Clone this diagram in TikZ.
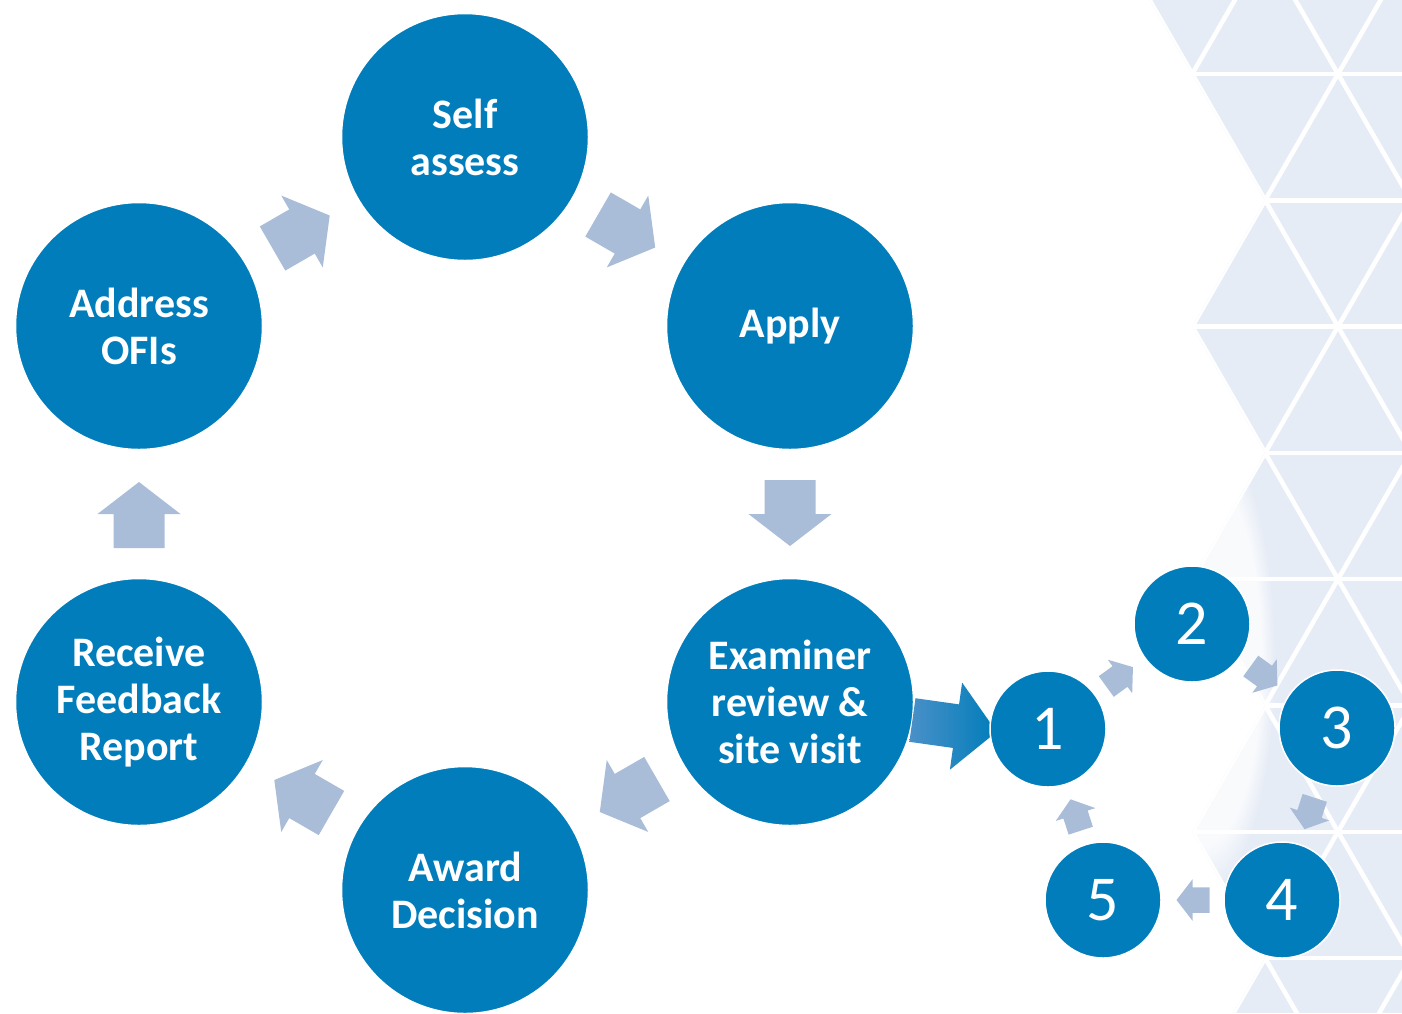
\documentclass[tikz,border=0pt]{standalone}
\usepackage{fontspec}
\setmainfont{Carlito}
\usetikzlibrary{calc, fadings}
\definecolor{stepblue}{RGB}{0,125,186}
\definecolor{arrowgray}{RGB}{170,189,216}
\definecolor{arrowlight}{RGB}{74,144,200}
\definecolor{tilefill}{RGB}{230,236,246}
\tikzstyle{step_circle} = [circle, fill=stepblue, draw=white, line width=1.5pt, minimum size=247pt, inner sep=0pt, text=white, align=center, font=\bfseries\fontsize{42}{47}\selectfont]
\tikzstyle{num_circle} = [circle, fill=stepblue, draw=white, line width=1.5pt, minimum size=116pt, inner sep=0pt, text=white, font=\fontsize{64}{64}\selectfont]
\tikzstyle{cycle_arrow} = [fill=arrowgray]
\tikzstyle{tile_line} = [white, line width=4.5pt]

\begin{document}
\begin{tikzpicture}[x=1pt, y=1pt]

    \useasboundingbox (0,0) rectangle (1402,-1013);
    \fill [white] (0,0) rectangle (1402,-1013);

    % triangle pattern on the right
    \begin{scope}
        \clip (1149.5,0) -- (1192.2,-74) -- (1265.1,-200.3) -- (1192.2,-326.6) -- (1265.1,-452.9)
            -- (1192.2,-579.2) -- (1265.1,-705.5) -- (1192.2,-831.8) -- (1265.1,-958.1)
            -- (1233.4,-1013) -- (1402,-1013) -- (1402,0) -- cycle;
        \fill [tilefill] (1100,0) rectangle (1402,-1013);
        \foreach \k in {0,...,7}
            \draw [tile_line] (1100,{-74-126.3*\k}) -- (1402,{-74-126.3*\k});
        \foreach \n in {-5,...,1}
            \draw [tile_line] ({1338+145.8*\n-77.3},60) -- ({1338+145.8*\n+580.7},-1080);
        \foreach \n in {-1,...,5}
            \draw [tile_line] ({1338+145.8*\n+77.3},60) -- ({1338+145.8*\n-580.7},-1080);
        % soft fade on the left edge
        \fill [white, opacity=0.75, path fading=circle with fuzzy edge 20 percent] (1205,-660) ellipse (70 and 230);
    \end{scope}

    \node (selfassess) [step_circle] at (465,-137) {Self\\assess};
    \node (apply) [step_circle] at (790,-326) {Apply};
    \node (examiner) [step_circle] at (790,-702) {Examiner\\review \&\\site visit};
    \node (award) [step_circle] at (465,-890) {Award\\Decision};
    \node (feedback) [step_circle] at (139,-702) {Receive\\Feedback\\Report};
    \node (ofis) [step_circle] at (139,-326) {Address\\OFIs};

    \shade [left color=arrowlight, right color=stepblue, shift={(955,-726)}, rotate=-8]
        (-43,-22) -- (1,-22) -- (1,-44) -- (42,0) -- (1,44) -- (1,22) -- (-43,22) -- cycle;

    \node (one) [num_circle] at (1048,-729) {1};
    \node (two) [num_circle] at (1192,-624) {2};
    \node (three) [num_circle] at (1337,-728) {3};
    \node (four) [num_circle] at (1282,-900) {4};
    \node (five) [num_circle] at (1103,-900) {5};

    \foreach \from/\to/\ang in {ofis/selfassess/30, selfassess/apply/-30, apply/examiner/-90,
                                examiner/award/-150, award/feedback/150, feedback/ofis/90}
        \fill [cycle_arrow, shift={($(\from)!0.5!(\to)$)}, rotate=\ang]
            (-34,-25.5) -- (0,-25.5) -- (0,-41.5) -- (32,0) -- (0,41.5) -- (0,25.5) -- (-34,25.5) -- cycle;

    \foreach \from/\to/\ang in {one/two/36, two/three/-36, three/four/-108, four/five/180, five/one/108}
        \fill [cycle_arrow, shift={($(\from)!0.5!(\to)$)}, rotate=\ang, scale=0.5]
            (-34,-25.5) -- (0,-25.5) -- (0,-41.5) -- (32,0) -- (0,41.5) -- (0,25.5) -- (-34,25.5) -- cycle;

\end{tikzpicture}
\end{document}
